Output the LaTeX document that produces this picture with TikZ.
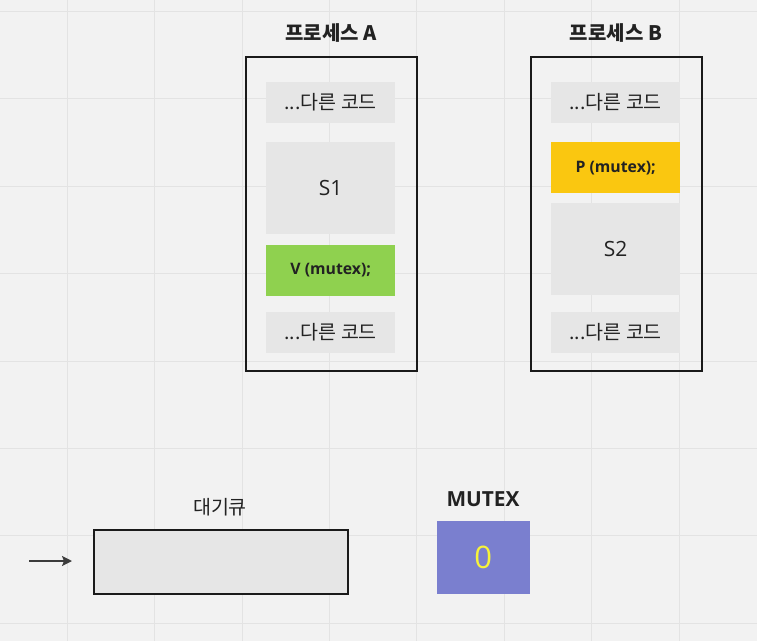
\documentclass[tikz,border=0pt]{standalone}
\usepackage{fontspec}
\setmainfont{Noto Sans CJK KR}
\newfontfamily\latin{Open Sans}
\usetikzlibrary{arrows.meta}
\definecolor{bg}{HTML}{F2F2F2}
\definecolor{gridc}{HTML}{E3E3E3}
\definecolor{cell}{HTML}{E6E6E6}
\definecolor{ink}{HTML}{1A1A1A}
\definecolor{txt}{HTML}{222222}
\definecolor{greenc}{HTML}{8FD14F}
\definecolor{yellowc}{HTML}{FAC710}
\definecolor{violetc}{HTML}{7A7FCF}
\definecolor{zeroc}{HTML}{F7F33A}
\tikzset{
  procbox/.style={draw=ink, line width=1.6bp, anchor=north west, minimum width=171bp, minimum height=314bp, inner sep=0pt},
  codebox/.style={fill=cell, anchor=north west, minimum width=129bp, inner sep=0pt, text=txt},
  other/.style={codebox, minimum height=41bp, font=\fontsize{19.5bp}{22bp}\selectfont},
  crit/.style={codebox, minimum height=92bp, font=\latin\fontsize{21bp}{24bp}\selectfont},
  op/.style={codebox, minimum height=51bp, font=\latin\bfseries\fontsize{15.8bp}{18bp}\selectfont},
  title/.style={text=txt, inner sep=0pt, font=\bfseries\fontsize{20bp}{23bp}\selectfont},
  label/.style={text=txt, inner sep=0pt, font=\fontsize{19.5bp}{22bp}\selectfont},
}
\begin{document}
\begin{tikzpicture}[x=1bp,y=-1bp]
\fill[bg] (0,0) rectangle (757,641);
\useasboundingbox (0,0) rectangle (757,641);
% grid
\foreach \gx in {67.3,154.7,242.1,329.5,416.9,504.3,591.7,679.1}
  \draw[gridc, line width=1.1bp] (\gx,0) -- (\gx,641);
\foreach \gy in {11.5,98.9,186.3,273.7,361.1,448.5,535.9,623.3}
  \draw[gridc, line width=1.1bp] (0,\gy) -- (757,\gy);

% Process A
\node[title] (ta) at (331,33) {프로세스 A};
\node[procbox] (pa) at (245,56) {};
\node[other] (a1) at (266,82) {...다른 코드};
\node[crit] (a2) at (266,142) {S1};
\node[op, fill=greenc] (a3) at (266,244.5) {V (mutex);};
\node[other] (a4) at (266,311.5) {...다른 코드};

% Process B
\node[title] (tb) at (616,33) {프로세스 B};
\node[procbox] (pb) at (530,56) {};
\node[other] (b1) at (551,82) {...다른 코드};
\node[op, fill=yellowc] (b2) at (551,142) {P (mutex);};
\node[crit] (b3) at (551,203) {S2};
\node[other] (b4) at (551,311.5) {...다른 코드};

% Queue
\node[label] (ql) at (220,507) {대기큐};
\node[draw=ink, line width=1.6bp, fill=cell, anchor=north west, minimum width=254bp, minimum height=64bp, inner sep=0pt] (q) at (93,529) {};
\coordinate (qin) at (29,561);
\draw[-{Stealth[length=10bp,width=10bp,inset=2bp]}, line width=1.5bp, draw=ink!85] (qin) -- (q.west |- qin) [shorten >=21bp];

% Mutex
\node[title, font=\latin\bfseries\fontsize{20.8bp}{24bp}\selectfont] (ml) at (483,499.5) {MUTEX};
\node[fill=violetc, anchor=north west, minimum width=93bp, minimum height=73bp, inner sep=0pt, text=zeroc, font=\latin\fontsize{31bp}{36bp}\selectfont] (m) at (436.5,521) {0};
\end{tikzpicture}
\end{document}
